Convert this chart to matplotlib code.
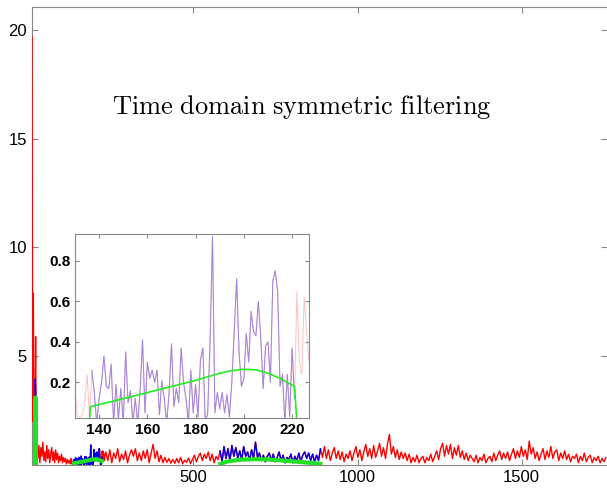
import numpy as np
import matplotlib
matplotlib.use("Agg")
import matplotlib.pyplot as plt

plt.rcParams['font.family'] = ['Liberation Sans', 'DejaVu Sans']
plt.rcParams['mathtext.fontset'] = 'cm'

# ---------------- data ----------------
spike_x = [8, 10, 12, 14, 17, 19, 21]
spike_y = [19.7, 2.0, 7.9, 1.0, 1.6, 5.9, 0.5]

noise1_x = list(range(23, 126, 3))
noise1_y = [1.0, 0.3, 0.9, 0.1, 0.8, 0.4, 1.05, 0.2, 0.6, 0.15, 0.9, 0.3, 0.7, 0.1, 0.5,
            0.8, 0.2, 0.6, 0.1, 0.7, 0.25, 0.55, 0.1, 0.4, 0.2, 0.5, 0.1, 0.35, 0.15, 0.3,
            0.05, 0.25, 0.1, 0.2, 0.05]

zoom_x = list(range(126, 231))
zoom_y = [0.3, 0.12, 0.25, 0.08, 0.17, 0.03, 0.03, 0.04, 0.1, 0.24,
          0.03, 0.26, 0.15, 0.0, 0.12, 0.2, 0.33, 0.18, 0.17, 0.29,
          0.0, 0.19, 0.02, 0.17, 0.0, 0.35, 0.1, 0.16, 0.0, 0.12,
          0.0, 0.16, 0.41, 0.05, 0.3, 0.22, 0.26, 0.2, 0.26, 0.04,
          0.21, 0.12, 0.0, 0.15, 0.39, 0.08, 0.17, 0.1, 0.37, 0.2,
          0.12, 0.0, 0.26, 0.05, 0.19, 0.03, 0.31, 0.37, 0.0, 0.05,
          0.4, 0.92, 0.05, 0.15, 0.07, 0.15, 0.05, 0.14, 0.03, 0.2,
          0.45, 0.71, 0.35, 0.18, 0.22, 0.44, 0.3, 0.55, 0.45, 0.43,
          0.6, 0.42, 0.17, 0.38, 0.4, 0.2, 0.7, 0.75, 0.65, 0.18,
          0.24, 0.0, 0.24, 0.03, 0.37, 0.12, 0.65, 0.3, 0.24, 0.62,
          0.45, 0.3, 0.5, 0.2, 0.4]

noise2_x = list(range(233, 1758, 6))
noise2_y = [
    0.6, 0.2, 0.7, 0.1, 0.55, 0.3, 0.75, 0.15, 0.5, 0.25, 0.65, 0.1, 0.45, 0.7, 0.4, 0.75, 0.2,
    0.55, 0.2, 0.65, 0.3, 0.7, 0.1, 0.55, 0.95, 0.3, 0.65, 0.15, 0.45, 0.1, 0.35, 0.12, 0.3, 0.08,
    0.25, 0.08, 0.3, 0.1, 0.35, 0.05, 0.22, 0.12, 0.32, 0.06, 0.25, 0.45, 0.15, 0.4, 0.55, 0.2, 0.5,
    0.3, 0.6, 0.2, 0.5, 0.1, 0.4, 0.25, 0.65, 0.15, 0.85, 0.3, 0.75, 0.2, 0.9, 0.4, 0.8, 0.3,
    0.65, 0.25, 0.85, 0.4, 0.6, 0.2, 0.7, 0.3, 1.05, 0.35, 0.55, 0.2, 0.45, 0.15, 0.4, 0.55, 0.2,
    0.5, 0.15, 0.35, 0.6, 0.2, 0.45, 0.1, 0.35, 0.25, 0.5, 0.1, 0.4, 0.2, 0.55, 0.15, 0.45, 0.6,
    0.3, 0.55, 0.2, 0.5, 0.15, 0.45, 0.2, 0.75, 0.35, 0.85, 0.3, 0.7, 0.2, 0.55, 0.8, 0.3, 0.65,
    0.25, 0.6, 0.15, 0.5, 0.3, 0.65, 0.2, 0.55, 0.85, 0.35, 0.7, 0.2, 0.6, 0.95, 0.4, 0.75, 0.3,
    0.9, 0.35, 0.65, 1.0, 0.4, 0.8, 0.3, 0.95, 1.4, 0.5, 0.85, 0.35, 0.7, 0.25, 0.6, 0.3, 0.55,
    0.2, 0.5, 0.1, 0.35, 0.15, 0.45, 0.1, 0.3, 0.4, 0.1, 0.35, 0.2, 0.5, 0.15, 0.4, 0.65, 0.25,
    0.75, 1.0, 0.4, 0.9, 0.5, 0.95, 0.3, 0.8, 0.45, 0.9, 0.35, 0.65, 0.25, 0.55, 0.2, 0.45, 0.3,
    0.15, 0.45, 0.1, 0.35, 0.2, 0.5, 0.1, 0.3, 0.4, 0.15, 0.55, 0.2, 0.45, 0.65, 0.25, 0.55, 0.3,
    0.6, 0.2, 0.5, 0.75, 0.3, 0.65, 0.35, 0.85, 0.4, 0.7, 0.25, 1.1, 0.5, 0.8, 0.3, 0.6, 0.2,
    0.5, 0.75, 0.25, 0.65, 0.35, 0.85, 0.3, 0.6, 0.7, 0.2, 0.55, 0.3, 0.65, 0.25, 0.5, 0.15, 0.4,
    0.3, 0.5, 0.1, 0.4, 0.2, 0.55, 0.15, 0.35, 0.45, 0.1, 0.35, 0.2, 0.4, 0.1, 0.3, 0.15, 0.35]

blue_spike_x = [16, 18, 20, 22]
blue_spike_y = [0.5, 3.95, 3.0, 0.3]

green0_x = [17, 18, 19, 20]
green0_y = [0.0, 3.1, 3.1, 0.0]

green1_x = [136, 136.3, 150, 160, 170, 180, 190, 195, 200, 205, 210, 215, 221, 222]
green1_y = [0.0, 0.08, 0.12, 0.15, 0.18, 0.21, 0.245, 0.258, 0.265, 0.262, 0.245, 0.22, 0.18, 0.0]

green2_x = [582, 600, 620, 650, 690, 720, 760, 800, 840, 870, 887]
green2_y = [0.05, 0.15, 0.2, 0.25, 0.27, 0.26, 0.22, 0.17, 0.12, 0.08, 0.05]

blue_ranges = [(137, 221), (580, 890)]

main_yticks = [5, 10, 15, 20]
main_xticks = [500, 1000, 1500]
inset_xticks = [140, 160, 180, 200, 220]
inset_yticks = [0.2, 0.4, 0.6, 0.8]

# ---------------- assemble ----------------
red_x = np.array(spike_x + noise1_x + zoom_x + noise2_x, dtype=float)
red_y = np.array(spike_y + noise1_y + zoom_y + noise2_y, dtype=float)

fig = plt.figure(figsize=(6.07, 4.91), dpi=100)
ax = fig.add_axes([32 / 607, 26 / 491, 1 - 32 / 607, (465 - 6.5) / 491])

ax.plot(red_x, red_y, color='#ff0000', lw=1.0, zorder=3)
ax.plot(blue_spike_x, blue_spike_y, color='#0000ff', lw=1.0, zorder=3)
for lo, hi in blue_ranges:
    m = (red_x >= lo) & (red_x <= hi)
    ax.plot(red_x[m], red_y[m], color='#0000ee', lw=1.0, zorder=3)
ax.plot(green0_x, green0_y, color='#22e022', lw=3, zorder=4)
ax.plot(green1_x[1:-1], green1_y[1:-1], color='#22e022', lw=3, zorder=4)
ax.plot(green2_x, green2_y, color='#22e022', lw=3, zorder=4)

ax.set_xlim(8, 1760)
ax.set_ylim(0, 21.08)
ax.set_xticks(main_xticks)
ax.set_yticks(main_yticks)
ax.tick_params(direction='in', length=4, color='#888888', labelsize=12, top=True, right=True)
for s in ax.spines.values():
    s.set_color('#888888')
ax.spines['right'].set_visible(False)

fig.text(302 / 607, 1 - 107 / 491, r"$\mathrm{Time\ domain\ symmetric\ filtering}$",
         fontsize=19, ha='center', va='center')

# ---------------- inset ----------------
ins = fig.add_axes([75 / 607, (491 - 417.7) / 491, (309 - 75) / 607, (417.7 - 234.3) / 491])
ins.set_zorder(5)
ins.plot(red_x, red_y, color='#ff9999', lw=0.7, alpha=0.6)
m = (red_x >= blue_ranges[0][0]) & (red_x <= blue_ranges[0][1])
ins.plot(red_x[m], red_y[m], color='#a386e0', lw=0.75)
ins.plot(green1_x, green1_y, color='#22ee22', lw=1.2)
ins.set_xlim(130, 227)
ins.set_ylim(0.026, 0.93)
ins.set_xticks(inset_xticks)
ins.set_yticks(inset_yticks)
ins.set_yticklabels([f"{v:.1f}" for v in inset_yticks])
ins.tick_params(direction='in', length=3, color='#888888', labelsize=11, top=True, right=True)
for lab in ins.get_xticklabels() + ins.get_yticklabels():
    lab.set_fontweight('bold')
for s in ins.spines.values():
    s.set_color('#888888')

fig.savefig("out.png", dpi=100)
